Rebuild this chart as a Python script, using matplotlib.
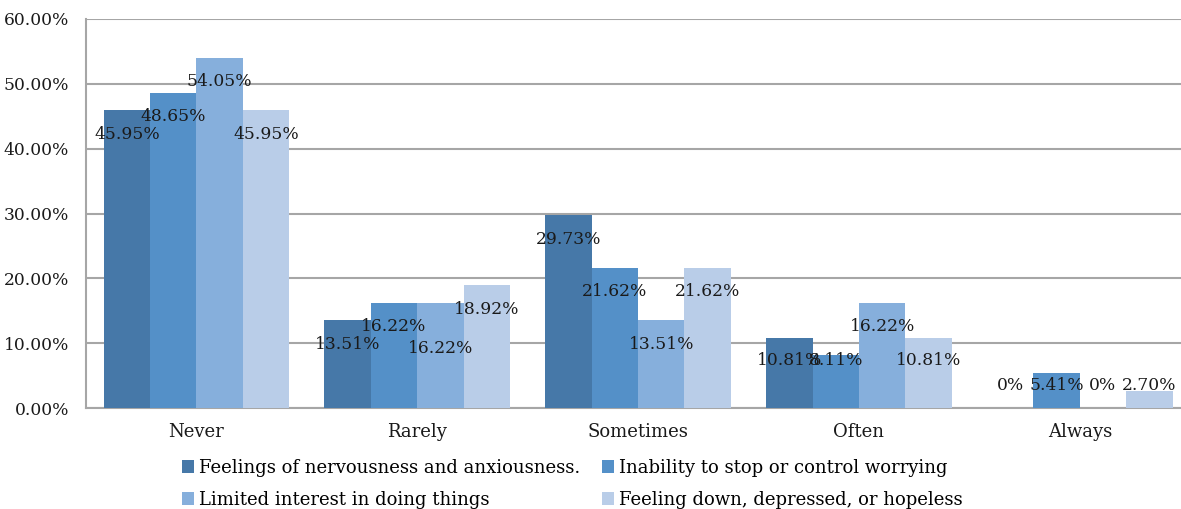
import matplotlib
matplotlib.use("Agg")
import matplotlib.pyplot as plt
import numpy as np
from matplotlib.ticker import FuncFormatter

categories = ["Never", "Rarely", "Sometimes", "Often", "Always"]
series_names = [
    "Feelings of nervousness and anxiousness.",
    "Inability to stop or control worrying",
    "Limited interest in doing things",
    "Feeling down, depressed, or hopeless",
]
nervousness = [45.95, 13.51, 29.73, 10.81, 0.0]
worrying = [48.65, 16.22, 21.62, 8.11, 5.41]
interest = [54.05, 16.22, 13.51, 16.22, 0.0]
depressed = [45.95, 18.92, 21.62, 10.81, 2.70]
colors = ["#4678A8", "#5490C8", "#86AFDC", "#B9CDE8"]

plt.rcParams["font.family"] = "DejaVu Serif"
plt.rcParams["font.size"] = 13

fig = plt.figure(figsize=(11.81, 5.09), dpi=100)
ax = fig.add_axes([0.0728, 0.1984, 0.935, 0.7643])

x = np.arange(len(categories))
width = 0.21
all_series = [nervousness, worrying, interest, depressed]


def fmt_label(v):
    return "0%" if v == 0 else f"{v:.2f}%"


handles = []
for i, (vals, name, c) in enumerate(zip(all_series, series_names, colors)):
    xs = x + (i - 1.5) * width
    bars = ax.bar(xs, vals, width, color=c, label=name, zorder=3)
    handles.append(bars)
    for j, v in enumerate(vals):
        # labels sit just below the bar top, kept clear of the baseline
        if v < 7.4:
            y = 3.5
        else:
            y = max(v - 3.7, 7.4)
        if i > 0 and all_series[i - 1][j] == v and v > 7.4:
            y -= 3.3
        ax.text(xs[j], y, fmt_label(v), ha="center", va="center",
                fontsize=12.3, color="#1a1a1a", zorder=4)

ax.set_ylim(0, 60)
ax.set_xlim(-0.5, 4.5)
ax.set_yticks(np.arange(0, 61, 10))
ax.yaxis.set_major_formatter(FuncFormatter(lambda v, _: f"{v:.2f}%"))
ax.set_xticks(x)
ax.set_xticklabels(categories)
ax.tick_params(axis="both", length=0, colors="#1a1a1a")
ax.tick_params(axis="y", pad=12, labelsize=12.3)
ax.tick_params(axis="x", pad=11, labelsize=13)
ax.grid(axis="y", color="#A6A6A6", linewidth=1.5, zorder=0)
for side in ("top", "right"):
    ax.spines[side].set_visible(False)
for side in ("left", "bottom"):
    ax.spines[side].set_color("#A6A6A6")
    ax.spines[side].set_linewidth(1.5)

# legend filled row by row: series 1 & 2 on top, 3 & 4 below
order = [0, 2, 1, 3]
fig.legend([handles[k] for k in order], [series_names[k] for k in order],
           loc="lower left", bbox_to_anchor=(0.140, -0.032), ncol=2,
           frameon=False, fontsize=13, handlelength=0.7, handleheight=0.7,
           handletextpad=0.25, columnspacing=1.2, labelspacing=0.8)

fig.savefig("out.png", dpi=100)
